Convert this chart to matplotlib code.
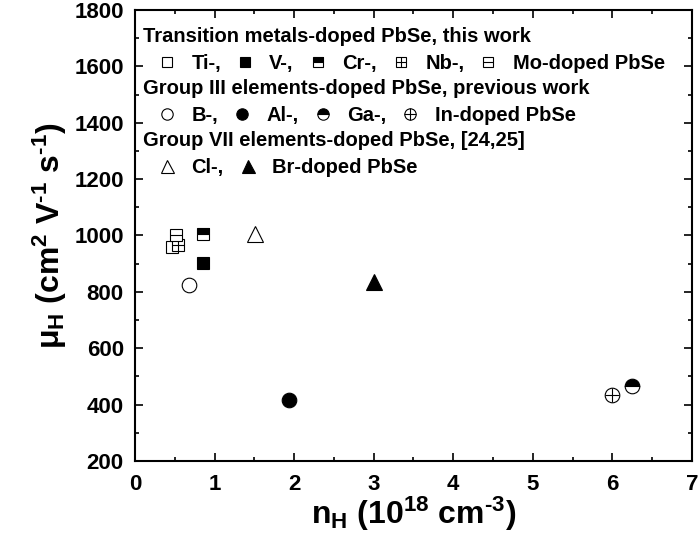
import matplotlib
matplotlib.use('Agg')
import matplotlib.pyplot as plt

plt.rcParams['font.family'] = ['Liberation Sans', 'DejaVu Sans']
plt.rcParams['font.weight'] = 'bold'
plt.rcParams['axes.labelweight'] = 'bold'
plt.rcParams['mathtext.fontset'] = 'custom'
plt.rcParams['mathtext.rm'] = 'Liberation Sans:bold'
plt.rcParams['mathtext.it'] = 'Liberation Sans:bold'
plt.rcParams['mathtext.bf'] = 'Liberation Sans:bold'
plt.rcParams['mathtext.default'] = 'rm'

# carrier concentration (1e18 cm^-3) and Hall mobility (cm^2/Vs)
ti_n, ti_mu = [0.46], [960]
v_n, v_mu = [0.85], [904]
cr_n, cr_mu = [0.85], [1007]
nb_n, nb_mu = [0.54], [968]
mo_n, mo_mu = [0.51], [1003]
b_n, b_mu = [0.68], [826]
al_n, al_mu = [1.94], [418]
ga_n, ga_mu = [6.24], [465]
in_n, in_mu = [6.00], [433]
cl_n, cl_mu = [1.51], [1007]
br_n, br_mu = [3.00], [836]

SQ, CI, TR = 9.3, 10.5, 12
MEW = 0.8

fig = plt.figure(figsize=(6.99, 5.43), dpi=100)
ax = fig.add_axes([0.1931, 0.151, 0.7969, 0.8306])

def pt(x, y, marker, ms, fill='none'):
    line, = ax.plot(x, y, marker=marker, linestyle='none', ms=ms, mew=MEW,
                    mec='black', mfc='black' if fill != 'none' else 'white',
                    fillstyle=fill if fill != 'none' else 'full')
    if fill == 'top':
        line.set_markerfacecoloralt('white')
    return line

h_ti = pt(ti_n, ti_mu, 's', SQ)
h_v = pt(v_n, v_mu, 's', SQ, fill='full')
h_cr = pt(cr_n, cr_mu, 's', SQ, fill='top')
h_nb = (pt(nb_n, nb_mu, 's', SQ), pt(nb_n, nb_mu, '+', SQ))
h_mo = (pt(mo_n, mo_mu, 's', SQ), pt(mo_n, mo_mu, '_', SQ))
h_b = pt(b_n, b_mu, 'o', CI)
h_al = pt(al_n, al_mu, 'o', CI, fill='full')
h_ga = pt(ga_n, ga_mu, 'o', CI, fill='top')
h_in = (pt(in_n, in_mu, 'o', CI), pt(in_n, in_mu, '+', CI))
h_cl = pt(cl_n, cl_mu, '^', TR)
h_br = pt(br_n, br_mu, '^', TR, fill='full')

ax.set_xlim(0, 7)
ax.set_ylim(200, 1800)
ax.set_xticks(range(0, 8))
ax.set_yticks(range(200, 1801, 200))
ax.set_xticks([x + 0.5 for x in range(7)], minor=True)
ax.set_yticks(range(300, 1800, 200), minor=True)
ax.tick_params(which='both', direction='in', top=True, right=True, width=1.2)
ax.tick_params(which='major', length=6, labelsize=16)
ax.tick_params(axis='x', which='major', pad=9)
ax.tick_params(axis='y', which='major', pad=8)
ax.tick_params(which='minor', length=3)
for s in ax.spines.values():
    s.set_linewidth(1.5)

hy = '\u2010'
ax.set_xlabel('n$_{H}$ (10$^{18}$ cm$^{' + hy + '3}$)', fontsize=23, labelpad=0)
ax.set_ylabel('\u03bc$_{H}$ (cm$^{2}$ V$^{' + hy + '1}$ s$^{' + hy + '1}$)',
              fontsize=23, labelpad=4)

leg_kw = dict(loc='upper left', frameon=False, handlelength=2.4, handletextpad=0.0,
              columnspacing=0.0, borderpad=0.0, borderaxespad=0.0,
              markerscale=0.78, alignment='left', labelspacing=0.42,
              prop={'weight': 'bold', 'size': 14.5},
              title_fontproperties={'weight': 'bold', 'size': 14.5})

leg1 = ax.legend([h_ti, h_v, h_cr, h_nb, h_mo],
                 ['Ti-,', 'V-,', 'Cr-,', 'Nb-,', 'Mo-doped PbSe'],
                 title='Transition metals-doped PbSe, this work', ncol=5,
                 bbox_to_anchor=(0.0143, 0.963), **leg_kw)
ax.add_artist(leg1)
leg2 = ax.legend([h_b, h_al, h_ga, h_in],
                 ['B-,', 'Al-,', 'Ga-,', 'In-doped PbSe'],
                 title='Group III elements-doped PbSe, previous work', ncol=4,
                 bbox_to_anchor=(0.0143, 0.847), **leg_kw)
ax.add_artist(leg2)
ax.legend([h_cl, h_br], ['Cl-,', 'Br-doped PbSe'],
          title='Group VII elements-doped PbSe, [24,25]', ncol=2,
          bbox_to_anchor=(0.0143, 0.732), **leg_kw)

fig.savefig('out.png', dpi=100)
